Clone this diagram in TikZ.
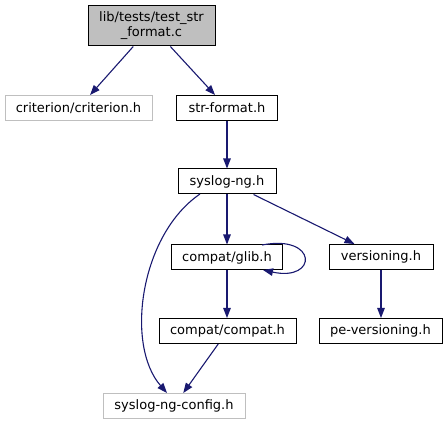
\documentclass[tikz,border=0pt]{standalone}
\usepackage{fontspec}
\setmainfont{DejaVu Sans}
\usetikzlibrary{arrows.meta}
\definecolor{edgeblue}{HTML}{191970}
\definecolor{grayfill}{HTML}{BFBFBF}
\definecolor{grayline}{HTML}{BFBFBF}
\tikzset{
  filebox/.style={draw=black, line width=1pt, inner sep=0pt, minimum height=25pt,
    font=\fontsize{13}{15}\selectfont, text=black, align=center},
  missingbox/.style={filebox, draw=grayline},
  rootbox/.style={filebox, fill=grayfill, minimum height=40pt},
  dep/.style={draw=edgeblue, line width=1.1pt, -{Triangle[length=10pt,width=7.5pt]}, color=edgeblue}
}
\begin{document}
\begin{tikzpicture}[x=1pt,y=-1pt]
\useasboundingbox (0,0) rectangle (448,425);
\node[rootbox, minimum width=127pt] (root) at (151.5,26) {lib/tests/test\_str\\\_format.c};
\node[missingbox, minimum width=147pt] (crit) at (78.5,108) {criterion/criterion.h};
\node[filebox, minimum width=101pt] (strf) at (227,108) {str-format.h};
\node[filebox, minimum width=98pt] (sng) at (227,181.5) {syslog-ng.h};
\node[filebox, minimum width=111pt] (glib) at (227,257.5) {compat/glib.h};
\node[filebox, minimum width=104pt] (vers) at (381,257) {versioning.h};
\node[filebox, minimum width=137pt] (compat) at (227.5,331) {compat/compat.h};
\node[filebox, minimum width=123pt] (pevers) at (380.5,331) {pe-versioning.h};
\node[missingbox, minimum width=142pt] (cfg) at (174,406) {syslog-ng-config.h};
\coordinate (loopa) at (262,245);
\coordinate (loopb) at (263,270);
\coordinate (curvea) at (200,194);
\draw[dep] (root) -- (crit);
\draw[dep] (root) -- (strf);
\draw[dep] (strf) -- (sng);
\draw[dep] (sng) -- (glib);
\draw[dep] (sng) -- (vers);
\draw[dep] (curvea) .. controls (140,235) and (125,345) .. (cfg.north -| 167,0);
\draw[dep] (loopa) .. controls (318,234) and (318,282) .. (loopb);
\draw[dep] (glib) -- (glib |- compat.north);
\draw[dep] (vers) -- (vers |- pevers.north);
\draw[dep] (compat) -- (cfg);
\end{tikzpicture}
\end{document}
